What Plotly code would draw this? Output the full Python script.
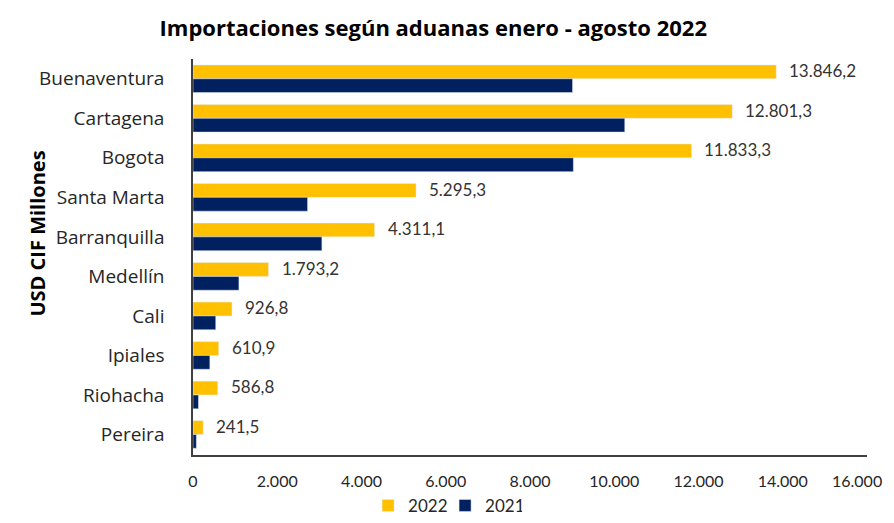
import plotly.graph_objects as go

aduanas = ["Buenaventura", "Cartagena", "Bogota", "Santa Marta", "Barranquilla",
           "Medellín", "Cali", "Ipiales", "Riohacha", "Pereira"]
imp_2022 = [13846.2, 12801.3, 11833.3, 5295.3, 4311.1, 1793.2, 926.8, 610.9, 586.8, 241.5]
imp_2021 = [9010, 10250, 9030, 2720, 3060, 1090, 540, 400, 130, 80]
ticks = [0, 2000, 4000, 6000, 8000, 10000, 12000, 14000, 16000]


def fmt(v, dec=1):
    # formato español: punto de miles, coma decimal
    return f"{v:,.{dec}f}".replace(",", "X").replace(".", ",").replace("X", ".")


fig = go.Figure()
fig.add_trace(go.Bar(y=aduanas, x=imp_2022, name="2022", orientation="h",
                     marker_color="#FFC000"))
fig.add_trace(go.Bar(y=aduanas, x=imp_2021, name="2021", orientation="h",
                     marker_color="#002060"))

for a, v in zip(aduanas, imp_2022):
    fig.add_annotation(x=v, y=a, text=fmt(v), showarrow=False, xanchor="left",
                       xshift=11, yshift=8,
                       font=dict(family="Lato", size=17, color="#333333"))

# last tick label: plotly hides it at the page edge, so draw it as an annotation
fig.add_annotation(x=ticks[-1], y=0, xref="x", yref="paper", text=fmt(ticks[-1], 0),
                   showarrow=False, xanchor="right", yanchor="top", xshift=17, yshift=-14,
                   font=dict(family="Lato", size=16, color="#262626"))

# page body has an 8px margin -> keep the figure small enough to avoid scrollbars
fig.update_layout(
    width=886, height=507,
    barmode="group", bargap=0.3, bargroupgap=0,
    plot_bgcolor="white", paper_bgcolor="white",
    margin=dict(l=185, r=27, t=51, b=60),
    font=dict(family="Lato", size=16, color="#262626"),
    title=dict(text="<b>Importaciones según aduanas enero - agosto 2022</b>",
               x=0.48, xanchor="center", y=0.96, yanchor="middle",
               font=dict(family="Open Sans", size=22, color="black")),
    legend=dict(orientation="h", x=0.374, xanchor="center",
                yref="container", y=0.018, yanchor="middle",
                font=dict(size=17), entrywidth=32, traceorder="normal"),
    showlegend=True,
)
fig.update_xaxes(range=[0, 16000], tickvals=ticks[:-1],
                 ticktext=[fmt(t, 0) for t in ticks[:-1]],
                 showgrid=False, showline=True, linecolor="#404040", linewidth=1.5,
                 ticks="", tickfont=dict(size=16), zeroline=False,
                 automargin=False, ticklabelstandoff=11)
fig.update_yaxes(autorange="reversed", showgrid=False, showline=True,
                 linecolor="#404040", linewidth=1.5, ticks="", ticklabelstandoff=23,
                 tickfont=dict(family="Open Sans", size=19), automargin=False)
fig.add_annotation(text="<b>USD CIF Millones</b>", textangle=-90,
                   xref="paper", yref="paper", x=(14 - 185) / 674, y=0.558,
                   showarrow=False, font=dict(family="Open Sans", size=20, color="black"))

fig.write_html("out.html")
